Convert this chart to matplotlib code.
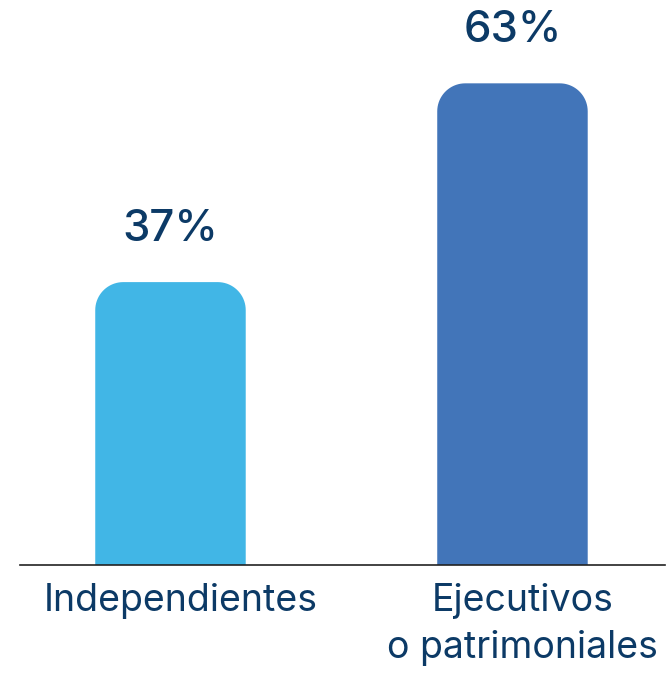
import numpy as np
import matplotlib.pyplot as plt
from matplotlib.patches import PathPatch
from matplotlib.path import Path
from matplotlib.transforms import ScaledTranslation

plt.rcParams["font.family"] = ["Inter", "DejaVu Sans"]

categories = ["Independientes", "Ejecutivos\no patrimoniales"]
values = [37, 63]
colors = ["#41B6E6", "#4275B9"]
text_color = "#0C3A66"

fig = plt.figure(figsize=(6.67, 6.73), dpi=100)
ax = fig.add_axes([0.03, 0.1605, 0.967, 0.8395])

x = list(range(len(values)))
bar_w = 0.44
bars = ax.bar(x, values, width=bar_w, color=colors)

ax.set_xlim(-0.44, 1.446)
ax.set_ylim(0, 73.9)


def rounded_top(x0, w, h, rx, ry, n=20):
    # outline of a bar with rounded top corners, in data units
    t = np.linspace(np.pi, np.pi / 2, n)
    left = np.column_stack([x0 + rx + rx * np.cos(t), h - ry + ry * np.sin(t)])
    t = np.linspace(np.pi / 2, 0, n)
    right = np.column_stack([x0 + w - rx + rx * np.cos(t), h - ry + ry * np.sin(t)])
    pts = np.vstack([[[x0, 0]], left, right, [[x0 + w, 0]], [[x0, 0]]])
    codes = [Path.MOVETO] + [Path.LINETO] * (len(pts) - 2) + [Path.CLOSEPOLY]
    return Path(pts, codes)


# swap the plain bars for ones with rounded tops
fig.canvas.draw()
px_x = ax.transData.transform((1, 0))[0] - ax.transData.transform((0, 0))[0]
px_y = ax.transData.transform((0, 1))[1] - ax.transData.transform((0, 0))[1]
radius_px = 28
for b, c in zip(bars, colors):
    b.set_visible(False)
    path = rounded_top(b.get_x(), b.get_width(), b.get_height(),
                       radius_px / px_x, radius_px / px_y)
    ax.add_patch(PathPatch(path, facecolor=c, edgecolor="none"))

for xi, v in zip(x, values):
    ax.annotate(f"{v}%", (xi, v), xytext=(0, 38), textcoords="offset points",
                ha="center", va="center", fontsize=31.5, color=text_color,
                fontweight="medium")

ax.set_xticks(x)
ax.set_xticklabels(categories, fontsize=27, color=text_color, linespacing=1.4)
ax.tick_params(axis="x", length=0, pad=13)
# labels sit a little right of the bar centres in the original
shift = ScaledTranslation(10 / 100, 0, fig.dpi_scale_trans)
for lab in ax.get_xticklabels():
    lab.set_transform(lab.get_transform() + shift)
ax.set_yticks([])
for s in ["top", "right", "left"]:
    ax.spines[s].set_visible(False)
ax.spines["bottom"].set_color("#222222")
ax.spines["bottom"].set_linewidth(1.2)

fig.savefig("out.png", dpi=100)
